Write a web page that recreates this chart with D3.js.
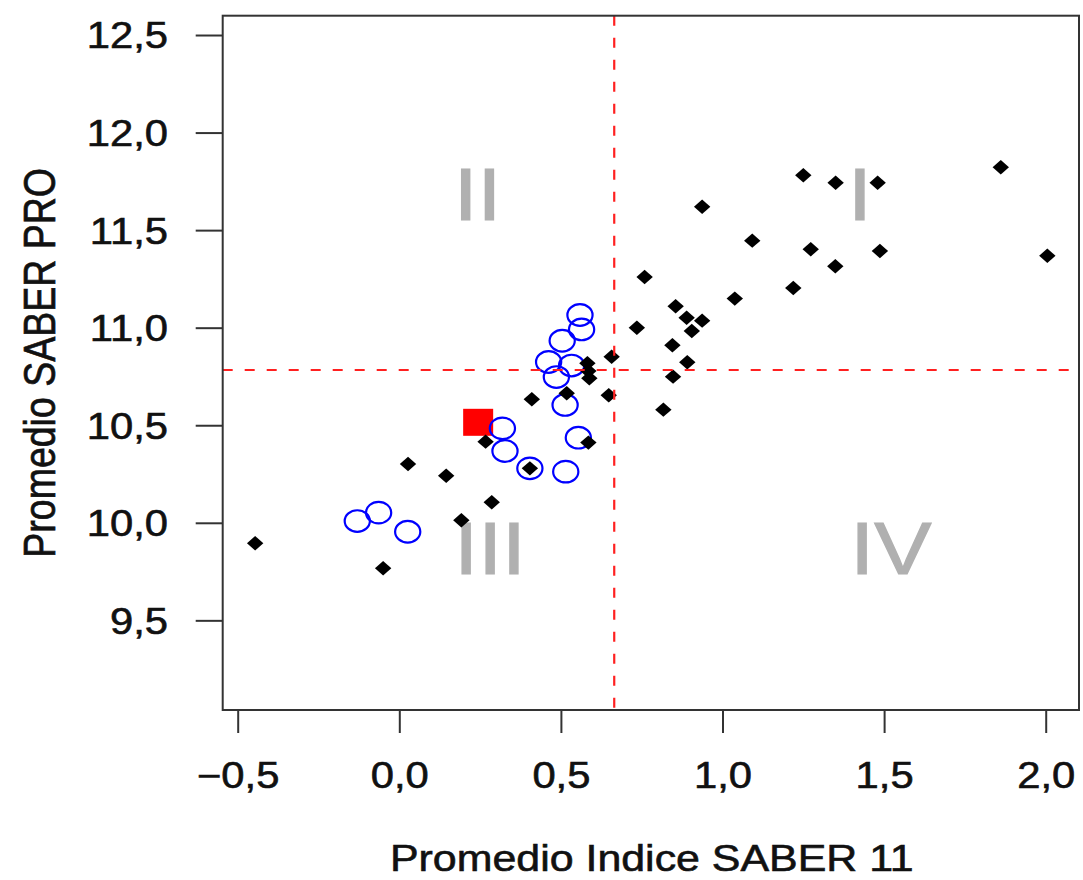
<!DOCTYPE html>
<html>
<head>
<meta charset="utf-8">
<script src="https://cdn.jsdelivr.net/npm/d3@7"></script>
<style>
  html, body { margin: 0; padding: 0; background: #ffffff; }
  svg { display: block; }
  text { font-family: "Liberation Sans", Arial, sans-serif; }
</style>
</head>
<body>
<svg id="chart" width="1083" height="880"></svg>
<script>
// ---- data ----
const blackX = [1.861, 1.250, 1.350, 1.480, 0.937, 1.092, 1.273, 1.487, 2.005, 1.349,
                0.759, 1.219, 1.038, 0.855, 0.889, 0.937, 0.735, 0.905, 0.845, 0.657,
                0.891, 0.847, 0.648, 0.817, 0.582, 0.585, 0.588, 0.518, 0.410, 0.267,
                0.585, 0.027, 0.145, 0.404, 0.286, 0.192, -0.446, -0.050];
const blackY = [11.822, 11.781, 11.743, 11.743, 11.620, 11.446, 11.402, 11.393, 11.369, 11.315,
                11.260, 11.203, 11.149, 11.110, 11.051, 11.036, 11.000, 10.983, 10.910, 10.851,
                10.823, 10.749, 10.654, 10.580, 10.818, 10.778, 10.741, 10.664, 10.633, 10.416,
                10.411, 10.301, 10.241, 10.279, 10.105, 10.013, 9.895, 9.767];

const blueX = [0.559, 0.564, 0.504, 0.462, 0.533, 0.486, 0.513, 0.319, 0.554, 0.327,
               0.404, 0.515, -0.130, -0.064, 0.026];
const blueY = [11.065, 10.991, 10.933, 10.824, 10.806, 10.747, 10.604, 10.484, 10.436, 10.368,
               10.279, 10.262, 10.009, 10.052, 9.954];

const redX = [0.244];
const redY = [10.515];

const refX = 0.665;   // vertical dashed line
const refY = 10.783;  // horizontal dashed line

const quadLabels = ["I", "II", "III", "IV"];
const quadX = [1.425, 0.242, 0.281, 1.521];
const quadY = [11.689, 11.689, 9.876, 9.876];

const xTicks = [-0.5, 0.0, 0.5, 1.0, 1.5, 2.0];
const yTicks = [9.5, 10.0, 10.5, 11.0, 11.5, 12.0, 12.5];

const xTitle = "Promedio Indice SABER 11";
const yTitle = "Promedio SABER PRO";

// ---- layout ----
const L = 222.7, R = 1079, T = 15.7, B = 710;
const SX = 1.16; // horizontal stretch of the original picture

const svg = d3.select("#chart");
const x = d3.scaleLinear().domain([-0.5464, 2.103]).range([L, R]);
const y = d3.scaleLinear().domain([9.0405, 12.599]).range([B, T]);

const loc = d3.formatLocale({decimal: ",", thousands: ".", grouping: [3], currency: ["", ""], minus: "\u2212"});
const fmt = loc.format(".1f");

// quadrant labels (behind)
svg.append("g").selectAll("text")
  .data(quadLabels)
  .join("text")
  .attr("transform", (d, i) => `translate(${x(quadX[i])},${y(quadY[i])}) scale(${SX},1)`)
  .attr("text-anchor", "middle")
  .attr("dy", "0.36em")
  .attr("font-size", 74)
  .attr("fill", "#b0b0b0")
  .attr("stroke", "#b0b0b0")
  .attr("stroke-width", 1.2)
  .text(d => d);

// red square
svg.append("g").selectAll("rect")
  .data(redX)
  .join("rect")
  .attr("x", (d) => x(d) - 15)
  .attr("y", (d, i) => y(redY[i]) - 13.5)
  .attr("width", 30)
  .attr("height", 27)
  .attr("fill", "#ff0000");

// blue open circles
svg.append("g").selectAll("ellipse")
  .data(blueX)
  .join("ellipse")
  .attr("cx", d => x(d))
  .attr("cy", (d, i) => y(blueY[i]))
  .attr("rx", 12.6)
  .attr("ry", 10.8)
  .attr("fill", "none")
  .attr("stroke", "#0000ff")
  .attr("stroke-width", 2.2);

// black diamonds
svg.append("g").selectAll("path")
  .data(blackX)
  .join("path")
  .attr("transform", (d, i) => `translate(${x(d)},${y(blackY[i])})`)
  .attr("d", "M0,-7.2L8.2,0L0,7.2L-8.2,0Z")
  .attr("fill", "#000000");

// dashed reference lines
svg.append("line")
  .attr("x1", x(refX)).attr("x2", x(refX))
  .attr("y1", T).attr("y2", B)
  .attr("stroke", "#ff2020").attr("stroke-width", 2.2)
  .attr("stroke-dasharray", "10,12");
svg.append("line")
  .attr("x1", L).attr("x2", R)
  .attr("y1", y(refY)).attr("y2", y(refY))
  .attr("stroke", "#ff2020").attr("stroke-width", 2.2)
  .attr("stroke-dasharray", "10,12");

// box
svg.append("rect")
  .attr("x", L).attr("y", T)
  .attr("width", R - L).attr("height", B - T)
  .attr("fill", "none")
  .attr("stroke", "#333333")
  .attr("stroke-width", 2);

// x axis
const gx = svg.append("g")
  .attr("transform", `translate(0,${B})`)
  .call(d3.axisBottom(x).tickValues(xTicks).tickSize(23).tickPadding(0).tickFormat(fmt));
gx.select(".domain").remove();
gx.selectAll(".tick line").attr("stroke", "#333333").attr("stroke-width", 2);
gx.selectAll(".tick text")
  .attr("y", 78).attr("dy", null)
  .attr("font-size", 36)
  .attr("fill", "#111111")
  .attr("stroke", "#111111")
  .attr("stroke-width", 0.6)
  .attr("font-family", "Liberation Sans, Arial, sans-serif")
  .attr("transform", `scale(${SX},1)`);

// y axis
const gy = svg.append("g")
  .attr("transform", `translate(${L},0)`)
  .call(d3.axisLeft(y).tickValues(yTicks).tickSize(27).tickPadding(0).tickFormat(fmt));
gy.select(".domain").remove();
gy.selectAll(".tick line").attr("stroke", "#333333").attr("stroke-width", 2);
gy.selectAll(".tick text")
  .attr("x", -(L - 168) / SX)
  .attr("dy", "0.36em")
  .attr("font-size", 36)
  .attr("fill", "#111111")
  .attr("stroke", "#111111")
  .attr("stroke-width", 0.6)
  .attr("font-family", "Liberation Sans, Arial, sans-serif")
  .attr("transform", `scale(${SX},1)`);

// axis titles
svg.append("text")
  .attr("transform", `translate(${(L + R) / 2 + 1},871) scale(${SX},1)`)
  .attr("text-anchor", "middle")
  .attr("font-size", 37)
  .attr("fill", "#111111")
  .attr("stroke", "#111111")
  .attr("stroke-width", 0.6)
  .text(xTitle);

svg.append("text")
  .attr("transform", `translate(55,${(T + B) / 2}) scale(${SX},1) rotate(-90)`)
  .attr("text-anchor", "middle")
  .attr("font-size", 37.5)
  .attr("fill", "#111111")
  .attr("stroke", "#111111")
  .attr("stroke-width", 0.6)
  .text(yTitle);
</script>
</body>
</html>
